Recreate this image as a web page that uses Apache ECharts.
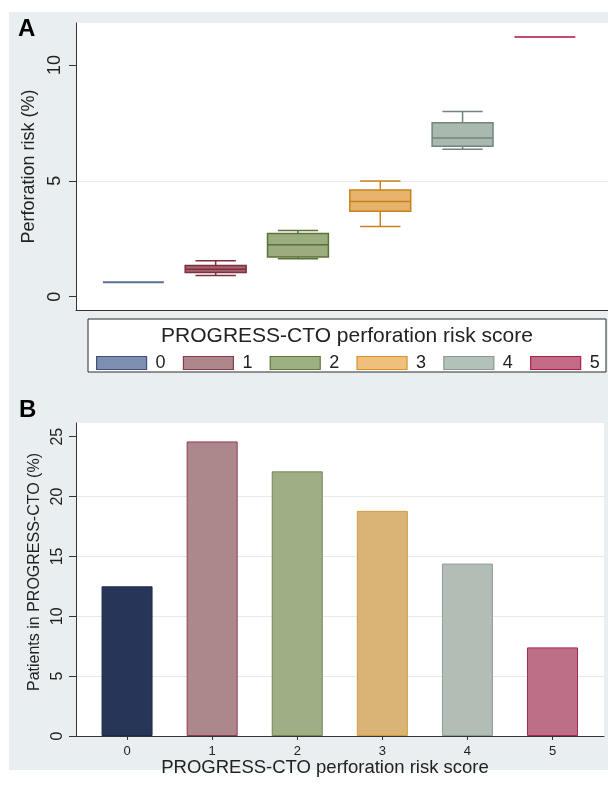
<!DOCTYPE html>
<html>
<head>
<meta charset="utf-8">
<script src="https://cdn.jsdelivr.net/npm/echarts@6/dist/echarts.min.js"></script>
<style>
html,body{margin:0;padding:0;background:#fff;}
#chart{width:608px;height:790px;}
</style>
</head>
<body>
<div id="chart"></div>
<script>
// risk score groups
var scores = ['0', '1', '2', '3', '4', '5'];

// panel A: perforation risk (%) per score, box plot stats
var riskMin    = [0.62, 0.92, 1.64, 3.03, 6.36, 11.21];
var riskQ1     = [0.62, 1.04, 1.71, 3.69, 6.49, 11.21];
var riskMedian = [0.62, 1.18, 2.24, 4.11, 6.85, 11.21];
var riskQ3     = [0.62, 1.35, 2.73, 4.60, 7.51, 11.21];
var riskMax    = [0.62, 1.55, 2.86, 4.99, 7.99, 11.21];

// panel B: share of patients in PROGRESS-CTO (%)
var patientPct = [12.5, 24.6, 22.1, 18.8, 14.4, 7.4];

var ticksA = [0, 5, 10];
var ticksB = [0, 5, 10, 15, 20, 25];

// colours
var boxFill    = ['#5b6e96', '#a8656d', '#9bad7f', '#e5b36b', '#a9b9b0', '#c44c6c'];
var boxLine    = ['#5b6e96', '#7c2f3c', '#5a7139', '#c8821c', '#72857c', '#c44c6c'];
var legendFill = ['#7d8fb0', '#ad878c', '#9db081', '#efc07c', '#b3c2b8', '#c26c87'];
var legendLine = ['#3e5282', '#8a3a48', '#5c7a37', '#d9912c', '#8a9a90', '#b01e48'];
var barFill    = ['#263558', '#ac878b', '#a0ae86', '#d9b476', '#b2beb5', '#be6f88'];
var barLine    = ['#1d2947', '#8e3c4a', '#6e8850', '#d39a3a', '#8f9c92', '#a3274e'];

var FONT = '"Liberation Sans", Arial, sans-serif';
var AXIS_COLOR = '#333';
var GRID_COLOR = '#e4eaed';
var BOX_W = 0.74;   // box width in category units
var CAP_W = 0.49;   // whisker cap width

var chart = echarts.init(document.getElementById('chart'));

// draws one box (whiskers, caps, box, median) through the axis scales
function renderBox(params, api) {
    var i = params.seriesIndex;
    var x = api.value(0);
    var lo = api.coord([x, api.value(1)]);
    var q1 = api.coord([x, api.value(2)]);
    var md = api.coord([x, api.value(3)]);
    var q3 = api.coord([x, api.value(4)]);
    var hi = api.coord([x, api.value(5)]);
    var bh = api.size([BOX_W, 0])[0] / 2;
    var ch = api.size([CAP_W, 0])[0] / 2;
    var cx = md[0];
    var flat = Math.abs(q1[1] - q3[1]) < 0.5;
    var ls = {stroke: boxLine[i], lineWidth: flat ? 2 : 1.5};
    if (flat) {
        return {type: 'line', shape: {x1: cx - bh, y1: md[1], x2: cx + bh, y2: md[1]}, style: ls};
    }
    return {
        type: 'group',
        children: [
            {type: 'line', shape: {x1: cx, y1: hi[1], x2: cx, y2: q3[1]}, style: ls},
            {type: 'line', shape: {x1: cx, y1: q1[1], x2: cx, y2: lo[1]}, style: ls},
            {type: 'line', shape: {x1: cx - ch, y1: hi[1], x2: cx + ch, y2: hi[1]}, style: ls},
            {type: 'line', shape: {x1: cx - ch, y1: lo[1], x2: cx + ch, y2: lo[1]}, style: ls},
            {type: 'rect', shape: {x: cx - bh, y: q3[1], width: bh * 2, height: q1[1] - q3[1]},
                style: {fill: boxFill[i], stroke: boxLine[i], lineWidth: 1.5}},
            {type: 'line', shape: {x1: cx - bh, y1: md[1], x2: cx + bh, y2: md[1]}, style: ls}
        ]
    };
}

var boxSeries = scores.map(function (s, i) {
    return {
        type: 'custom',
        name: s,
        xAxisIndex: 0,
        yAxisIndex: 0,
        renderItem: renderBox,
        encode: {x: 0, y: [1, 2, 3, 4, 5]},
        itemStyle: {color: legendFill[i], borderColor: legendLine[i]},
        data: [[i, riskMin[i], riskQ1[i], riskMedian[i], riskQ3[i], riskMax[i]]]
    };
});

var barSeries = {
    type: 'bar',
    name: 'patients',
    xAxisIndex: 1,
    yAxisIndex: 1,
    barWidth: 51,
    data: patientPct.map(function (v, i) {
        return {value: [i, v], itemStyle: {color: barFill[i], borderColor: barLine[i], borderWidth: 1}};
    })
};

var option = {
    animation: false,
    textStyle: {fontFamily: FONT},
    graphic: [
        {type: 'rect', z: -10, shape: {x: 9, y: 12, width: 599, height: 758}, style: {fill: '#e9eff1'}},
        {type: 'rect', z: -5, shape: {x: 88, y: 319, width: 518, height: 53},
            style: {fill: '#fff', stroke: '#2b2b2b', lineWidth: 1}}
    ],
    title: [
        {text: 'A', left: 18, top: 17, padding: 0,
            textStyle: {fontSize: 24, fontWeight: 'bold', color: '#000', fontFamily: FONT}},
        {text: 'B', left: 19, top: 398, padding: 0,
            textStyle: {fontSize: 24, fontWeight: 'bold', color: '#000', fontFamily: FONT}},
        {text: 'PROGRESS-CTO perforation risk score', left: 347, top: 326, padding: 0, textAlign: 'center',
            textStyle: {fontSize: 21, fontWeight: 'normal', color: '#222', fontFamily: FONT}}
    ],
    legend: {
        left: 96,
        top: 354,
        padding: 0,
        icon: 'rect',
        itemWidth: 50,
        itemHeight: 13,
        itemGap: 17.2,
        selectedMode: false,
        textStyle: {fontSize: 18, color: '#222', fontFamily: FONT, padding: [0, 0, 0, 4]},
        data: scores.map(function (s, i) {
            return {name: s, itemStyle: {color: legendFill[i], borderColor: legendLine[i], borderWidth: 1.2}};
        })
    },
    grid: [
        {left: 76, top: 23, width: 532, height: 287, show: true, backgroundColor: '#fff', borderWidth: 0},
        {left: 76, top: 423, width: 528, height: 313, show: true, backgroundColor: '#fff', borderWidth: 0}
    ],
    xAxis: [
        {
            gridIndex: 0, type: 'value', min: -0.697, max: 5.767,
            axisLine: {onZero: false, lineStyle: {color: AXIS_COLOR, width: 1}},
            axisTick: {show: false}, axisLabel: {show: false}, splitLine: {show: false}
        },
        {
            gridIndex: 1, type: 'value', min: -0.6, max: 5.605,
            name: 'PROGRESS-CTO perforation risk score', nameLocation: 'middle', nameGap: 20,
            nameTextStyle: {fontSize: 18.5, color: '#222', fontFamily: FONT, padding: [0, 30, 0, 0]},
            axisLine: {onZero: false, lineStyle: {color: AXIS_COLOR, width: 1}},
            axisTick: {show: true, length: 4, customValues: [0, 1, 2, 3, 4, 5], lineStyle: {color: AXIS_COLOR}},
            axisLabel: {
                customValues: [0, 1, 2, 3, 4, 5], margin: 9, fontSize: 13, color: '#222', fontFamily: FONT,
                formatter: function (v) { return scores[Math.round(v)]; }
            },
            splitLine: {show: false}
        }
    ],
    yAxis: [
        {
            gridIndex: 0, type: 'value', min: -0.574, max: 11.81,
            name: 'Perforation risk (%)', nameLocation: 'middle', nameGap: 37,
            nameTextStyle: {fontSize: 18, color: '#222', fontFamily: FONT},
            axisLine: {show: true, onZero: false, lineStyle: {color: AXIS_COLOR, width: 1}},
            axisTick: {show: true, length: 7, customValues: ticksA, lineStyle: {color: AXIS_COLOR}},
            axisLabel: {customValues: ticksA, rotate: 90, margin: 12, fontSize: 18, color: '#222', fontFamily: FONT},
            splitLine: {show: true, showMinLine: false, showMaxLine: false, lineStyle: {color: GRID_COLOR, width: 1}}
        },
        {
            gridIndex: 1, type: 'value', min: 0, max: 26.14, interval: 5,
            name: 'Patients in PROGRESS-CTO (%)', nameLocation: 'middle', nameGap: 30,
            nameTextStyle: {fontSize: 16, color: '#222', fontFamily: FONT, padding: [0, 0, 0, 15]},
            axisLine: {show: true, onZero: false, lineStyle: {color: AXIS_COLOR, width: 1}},
            axisTick: {show: true, length: 7, customValues: ticksB, lineStyle: {color: AXIS_COLOR}},
            axisLabel: {customValues: ticksB, rotate: 90, margin: 10, fontSize: 16, color: '#222', fontFamily: FONT},
            splitLine: {show: true, showMinLine: false, showMaxLine: false, lineStyle: {color: GRID_COLOR, width: 1}}
        }
    ],
    series: boxSeries.concat([barSeries])
};

chart.setOption(option);
</script>
</body>
</html>
